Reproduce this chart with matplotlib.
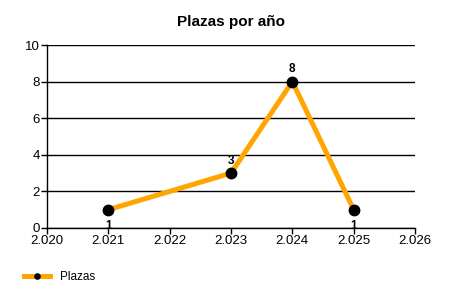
import matplotlib.pyplot as plt
from matplotlib.ticker import FuncFormatter, MultipleLocator

plt.rcParams["font.family"] = ["Liberation Sans", "DejaVu Sans"]

years = [2021, 2023, 2024, 2025]
plazas = [1, 3, 8, 1]
series_name = "Plazas"
title = "Plazas por año"

fig = plt.figure(figsize=(4.5, 3), dpi=100)
ax = fig.add_axes([47 / 450, 72 / 300, 368 / 450, 183 / 300])

ax.plot(years, plazas, color="#FFA500", lw=3.6, marker="o", ms=7.5,
        mfc="black", mec="black", label=series_name, zorder=3, clip_on=False)

low = min(plazas)
for x, y in zip(years, plazas):
    dy = -12 if y == low else 9
    ax.annotate(str(y), (x, y), xytext=(0, dy), textcoords="offset points",
                ha="center", va="center", fontsize=8.5, fontweight="bold", zorder=4)

ax.set_xlim(2020, 2026)
ax.set_ylim(0, 10)
ax.xaxis.set_major_locator(MultipleLocator(1))
ax.yaxis.set_major_locator(MultipleLocator(2))
ax.xaxis.set_major_formatter(FuncFormatter(lambda v, p: f"{v:,.0f}".replace(",", ".")))
ax.yaxis.grid(True, color="black", lw=1)
ax.set_axisbelow(True)
for s in ["top", "right"]:
    ax.spines[s].set_visible(False)
ax.spines["left"].set_linewidth(1)
ax.spines["bottom"].set_linewidth(1)
ax.tick_params(length=4, width=1, labelsize=9.5, pad=1)
ax.set_title(title, fontsize=11, fontweight="bold", pad=14)

fig.legend(loc="lower left", bbox_to_anchor=(0.03, 0.02), frameon=False,
           fontsize=8.5, handlelength=2.2, markerscale=0.5)

fig.savefig("out.png", dpi=100)
